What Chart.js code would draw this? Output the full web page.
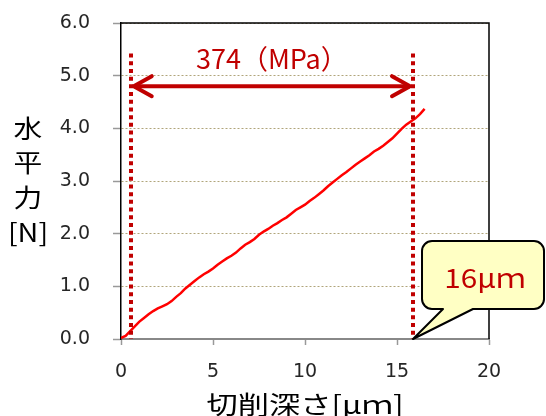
<!DOCTYPE html>
<html><head><meta charset="utf-8">
<script src="https://cdn.jsdelivr.net/npm/chart.js@4.4.0/dist/chart.umd.min.js"></script>
<style>html,body{margin:0;padding:0;background:#fff}#wrap{width:546px;height:416px}</style>
</head><body><div id="wrap"><canvas id="c" width="546" height="416"></canvas></div>
<script>
const depthUm = [0.0,0.25,0.5,0.75,1.0,1.25,1.5,1.75,2.0,2.25,2.5,2.75,3.0,3.25,3.5,3.75,4.0,4.25,4.5,4.75,5.0,5.25,5.5,5.75,6.0,6.25,6.5,6.75,7.0,7.25,7.5,7.75,8.0,8.25,8.5,8.75,9.0,9.25,9.5,9.75,10.0,10.25,10.5,10.75,11.0,11.25,11.5,11.75,12.0,12.25,12.5,12.75,13.0,13.25,13.5,13.75,14.0,14.25,14.5,14.75,15.0,15.25,15.5,15.75,16.0,16.25,16.5];
const forceN = [0.02,0.06,0.15,0.24,0.33,0.40,0.47,0.53,0.58,0.62,0.66,0.72,0.80,0.87,0.96,1.03,1.10,1.17,1.23,1.28,1.34,1.41,1.47,1.53,1.58,1.64,1.72,1.79,1.84,1.90,1.98,2.04,2.09,2.15,2.20,2.26,2.31,2.38,2.45,2.50,2.55,2.62,2.68,2.75,2.82,2.90,2.97,3.04,3.11,3.17,3.24,3.31,3.37,3.43,3.49,3.56,3.61,3.67,3.74,3.81,3.90,3.99,4.07,4.13,4.19,4.27,4.37];
const xTicks = [0,5,10,15,20];
const yTicks = [0,1,2,3,4,5,6];
const markerDepths = [0.53, 15.87];
const markerTopForce = 5.42;
const arrowForce = 4.80;
const stressLabel = '374（MPa）';
const stressLabelPos = [8.2, 5.33];
const calloutLabel = '16μｍ';
const calloutDepth = 15.87;
const xTitle = '切削深さ[μｍ]';
const yTitleLines = ['水','平','力','[N]'];

const CJK = '"Noto Sans CJK JP", "Noto Sans", sans-serif';

function stretchText(ctx, text, cx, cy, font, color, sx){
  ctx.save(); ctx.font = font; ctx.fillStyle = color;
  ctx.textAlign = 'center'; ctx.textBaseline = 'middle';
  ctx.translate(cx, cy); ctx.scale(sx, 1); ctx.fillText(text, 0, 0); ctx.restore();
}

const annot = {
  id: 'annot',
  afterDraw(chart){
    const {ctx, chartArea: ca, scales: {x, y}} = chart;
    ctx.save();
    ctx.strokeStyle = '#000'; ctx.lineWidth = 1.5;
    ctx.beginPath(); ctx.moveTo(ca.left, ca.top); ctx.lineTo(ca.right, ca.top); ctx.lineTo(ca.right, ca.bottom); ctx.stroke();
    ctx.strokeStyle = '#C00000'; ctx.lineWidth = 4; ctx.setLineDash([4, 3.7]);
    markerDepths.forEach(d => {
      const px = Math.round(x.getPixelForValue(d));
      ctx.beginPath(); ctx.moveTo(px, y.getPixelForValue(markerTopForce)); ctx.lineTo(px, y.getPixelForValue(0)); ctx.stroke();
    });
    ctx.setLineDash([]);
    const ax1 = x.getPixelForValue(markerDepths[0]) + 3, ax2 = x.getPixelForValue(markerDepths[1]) - 3, ay = y.getPixelForValue(arrowForce);
    ctx.lineWidth = 4; ctx.lineJoin = 'miter'; ctx.lineCap = 'butt';
    ctx.beginPath(); ctx.moveTo(ax1, ay); ctx.lineTo(ax2, ay); ctx.stroke();
    ctx.lineCap = 'round';
    ctx.beginPath(); ctx.moveTo(ax1 + 18, ay - 10); ctx.lineTo(ax1, ay); ctx.lineTo(ax1 + 18, ay + 10); ctx.stroke();
    ctx.beginPath(); ctx.moveTo(ax2 - 18, ay - 10); ctx.lineTo(ax2, ay); ctx.lineTo(ax2 - 18, ay + 10); ctx.stroke();
    stretchText(ctx, stressLabel, x.getPixelForValue(stressLabelPos[0]), y.getPixelForValue(stressLabelPos[1]), '27px ' + CJK, '#C00000', 1.0);
    const tx = x.getPixelForValue(calloutDepth), ty = y.getPixelForValue(0);
    const L = tx + 9, R = tx + 131, T = ty - 98, B = ty - 30, r = 10;
    ctx.beginPath();
    ctx.moveTo(L + r, T);
    ctx.lineTo(R - r, T); ctx.arcTo(R, T, R, T + r, r);
    ctx.lineTo(R, B - r); ctx.arcTo(R, B, R - r, B, r);
    ctx.lineTo(tx + 60, B); ctx.lineTo(tx, ty); ctx.lineTo(tx + 30, B);
    ctx.lineTo(L + r, B); ctx.arcTo(L, B, L, B - r, r);
    ctx.lineTo(L, T + r); ctx.arcTo(L, T, L + r, T, r);
    ctx.closePath();
    ctx.fillStyle = '#FFFFC4'; ctx.fill();
    ctx.lineWidth = 2; ctx.strokeStyle = '#000'; ctx.lineJoin = 'round'; ctx.stroke();
    stretchText(ctx, calloutLabel, tx + 72, ty - 61, '27px ' + CJK, '#C00000', 1.1);
    stretchText(ctx, xTitle, 305, 404, '25px ' + CJK, '#000', 1.25);
    const yc = [128, 162, 197, 232];
    yTitleLines.forEach((t, i) => stretchText(ctx, t, 28, yc[i], '25px ' + CJK, '#000', 1.15));
    ctx.restore();
  }
};

new Chart(document.getElementById('c'), {
  type: 'scatter',
  data: { datasets: [{
    data: depthUm.map((v, i) => ({x: v, y: forceN[i]})),
    showLine: true, borderColor: '#FF0000', borderWidth: 2.5, pointRadius: 0, tension: 0
  }]},
  options: {
    responsive: false, animation: false,
    layout: { padding: { top: 23, right: 57, left: 0, bottom: 0 } },
    plugins: { legend: { display: false }, tooltip: { enabled: false } },
    scales: {
      x: {
        type: 'linear', min: 0, max: 20,
        afterBuildTicks: s => { s.ticks = xTicks.map(v => ({value: v})); },
        afterFit: s => { s.height = 77; s.paddingLeft = 0; s.paddingRight = 0; },
        ticks: { font: { family: '"DejaVu Sans"', size: 19 }, color: '#262626', padding: 16, maxRotation: 0 },
        grid: { drawOnChartArea: false, drawTicks: true, tickLength: 6, tickColor: '#999', tickWidth: 1.5 },
        border: { color: '#888', width: 2 }
      },
      y: {
        type: 'linear', min: 0, max: 6,
        afterBuildTicks: s => { s.ticks = yTicks.map(v => ({value: v})); },
        afterFit: s => { s.width = 121; s.paddingTop = 0; s.paddingBottom = 0; },
        ticks: { font: { family: '"DejaVu Sans"', size: 19 }, color: '#262626', padding: 23, callback: v => Number(v).toFixed(1) },
        grid: { color: '#B0A57A', lineWidth: 1, tickLength: 8, tickColor: '#999', tickWidth: 1.5, tickBorderDash: [] },
        border: { color: '#000', width: 1.5, dash: [2, 2] }
      }
    }
  },
  plugins: [annot]
});
</script></body></html>
